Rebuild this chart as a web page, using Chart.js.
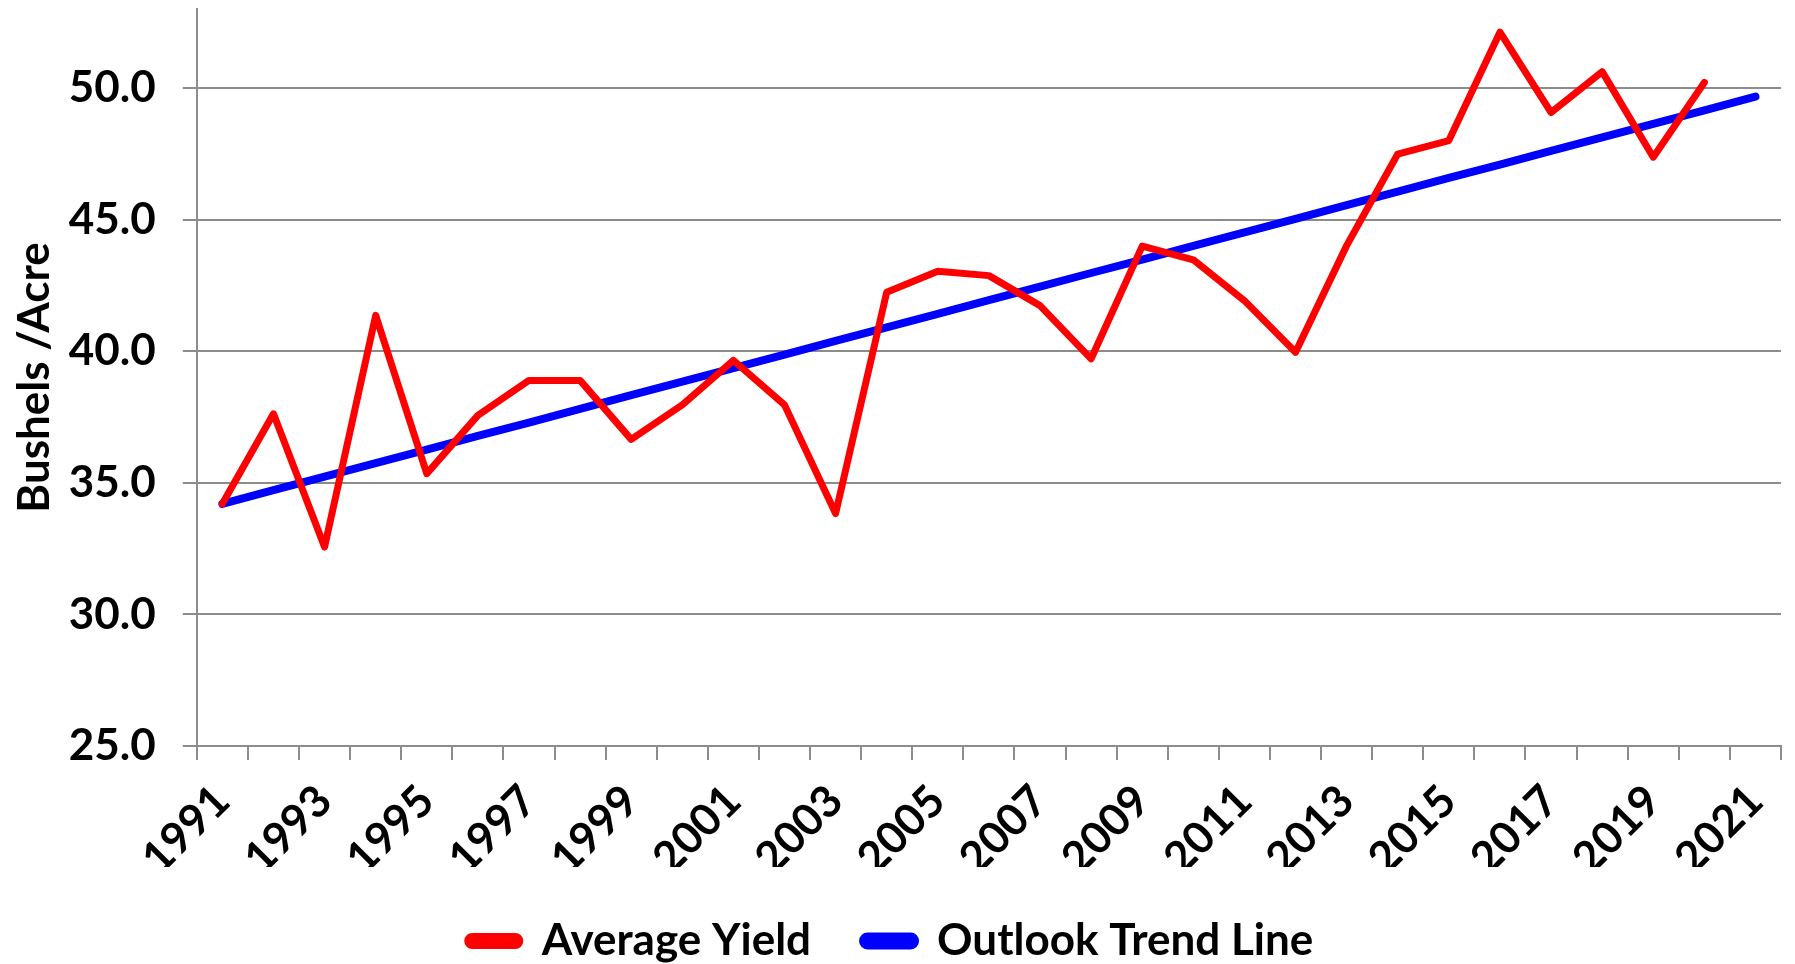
<!DOCTYPE html>
<html>
<head>
<meta charset="utf-8">
<script src="https://cdn.jsdelivr.net/npm/chart.js@4/dist/chart.umd.min.js"></script>
<style>
  html, body { margin: 0; padding: 0; background: #fff; overflow: hidden; }
  #wrap { width: 1795px; height: 964px; }
</style>
</head>
<body>
<div id="wrap"><canvas id="c" width="1795" height="964"></canvas></div>
<script>
const years = ['1991','1992','1993','1994','1995','1996','1997','1998','1999','2000',
  '2001','2002','2003','2004','2005','2006','2007','2008','2009','2010',
  '2011','2012','2013','2014','2015','2016','2017','2018','2019','2020','2021'];
const shownYearLabels = ['1991','1993','1995','1997','1999','2001','2003','2005',
  '2007','2009','2011','2013','2015','2017','2019','2021'];
const averageYield = [34.2, 37.62, 32.56, 41.36, 35.35, 37.56, 38.89, 38.89, 36.65, 37.96,
  39.65, 37.96, 33.83, 42.24, 43.04, 42.87, 41.73, 39.71, 43.99, 43.47,
  41.92, 39.96, 44.01, 47.49, 48.0, 52.12, 49.07, 50.62, 47.37, 50.21, null];
const outlookTrend = [34.20, 34.72, 35.23, 35.75, 36.26, 36.78, 37.29, 37.81, 38.33, 38.84,
  39.36, 39.87, 40.39, 40.90, 41.42, 41.94, 42.45, 42.97, 43.48, 44.00,
  44.51, 45.03, 45.55, 46.06, 46.58, 47.09, 47.61, 48.12, 48.64, 49.15, 49.67];
const yTicks = [25, 30, 35, 40, 45, 50];
const yMin = 25, yMax = 53;

Chart.defaults.color = '#000';
Chart.defaults.font.family = 'Lato, "Open Sans", sans-serif';
Chart.defaults.font.weight = 'bold';

const gridGray = '#8c8c8c';

new Chart(document.getElementById('c'), {
  type: 'line',
  data: {
    labels: years,
    datasets: [
      {
        label: 'Average Yield',
        data: averageYield,
        borderColor: '#ff0000',
        backgroundColor: '#ff0000',
        borderWidth: 7,
        pointRadius: 0,
        tension: 0,
        borderJoinStyle: 'round',
        borderCapStyle: 'round',
        spanGaps: false
      },
      {
        label: 'Outlook Trend Line',
        data: outlookTrend,
        borderColor: '#0000ff',
        backgroundColor: '#0000ff',
        borderWidth: 8,
        pointRadius: 0,
        tension: 0,
        borderJoinStyle: 'round',
        borderCapStyle: 'round'
      }
    ]
  },
  options: {
    responsive: false,
    animation: false,
    layout: { padding: { top: 9, right: 14, left: 0, bottom: -9 } },
    plugins: {
      tooltip: { enabled: false },
      legend: {
        position: 'bottom',
        labels: {
          boxWidth: 52,
          boxHeight: 9,
          useBorderRadius: true,
          borderRadius: 4.5,
          padding: 52,
          font: { size: 44, weight: 'bold', family: 'Lato' },
          color: '#000'
        }
      }
    },
    scales: {
      x: {
        offset: true,
        afterFit: function(axis) {
          axis.paddingLeft = 0;
          axis.paddingRight = 0;
          axis.height = 121;
        },
        border: { color: gridGray, width: 2 },
        grid: {
          offset: true,
          drawOnChartArea: false,
          drawTicks: true,
          tickLength: 14,
          color: gridGray,
          lineWidth: 2
        },
        ticks: {
          autoSkip: false,
          minRotation: 45,
          maxRotation: 45,
          padding: 15,
          font: { size: 44, weight: 'bold', family: 'Lato' },
          callback: function(value, index) {
            const lab = years[index];
            return shownYearLabels.includes(lab) ? lab : '';
          }
        }
      },
      y: {
        min: yMin,
        max: yMax,
        afterBuildTicks: function(axis) {
          axis.ticks = yTicks.map(v => ({ value: v }));
        },
        afterFit: function(axis) {
          axis.paddingTop = 0;
          axis.paddingBottom = 0;
        },
        border: { color: gridGray, width: 2 },
        grid: {
          color: gridGray,
          lineWidth: 2,
          drawTicks: true,
          tickLength: 14
        },
        ticks: {
          padding: 27,
          font: { size: 44, weight: 'bold', family: 'Lato' },
          callback: function(value) { return Number(value).toFixed(1); }
        },
        title: {
          display: true,
          text: 'Bushels /Acre',
          font: { size: 44, weight: 'bold', family: 'Lato' },
          padding: { top: 8, bottom: -19 }
        }
      }
    }
  }
});
</script>
</body>
</html>
